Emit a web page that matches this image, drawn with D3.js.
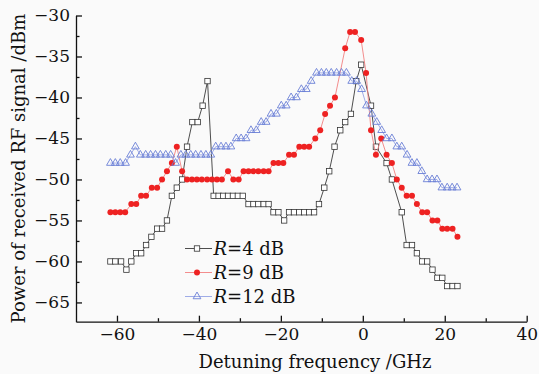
<!DOCTYPE html>
<html>
<head>
<meta charset="utf-8">
<script src="https://cdn.jsdelivr.net/npm/d3@7"></script>
<style>
    body { margin: 0; background: #fafafa; }
    svg { display: block; font-family: "DejaVu Serif", serif; }
    .axis path, .axis line { stroke: #111; stroke-width: 1.3; }
    .axis text { font-family: "DejaVu Serif", serif; font-size: 17px; fill: #111; }
</style>
</head>
<body>
<div id="chart"></div>
<script>

// Detuning frequency (GHz) and received power (dBm)
const freqR4 = [-61.6, -60.4, -59.0, -57.7, -56.5, -55.3, -54.1, -52.9, -51.6, -50.2,
    -49.0, -47.8, -46.6, -45.4, -44.1, -42.9, -41.6, -40.3, -39.1, -37.9,
    -36.4, -35.2, -34.1, -32.9, -31.7, -30.5, -29.3, -27.9, -26.7, -25.5,
    -24.2, -23.0, -21.8, -20.6, -19.2, -18.0, -16.8, -15.5, -14.3, -13.1,
    -11.9, -10.7, -9.4, -8.2, -6.9, -5.5, -4.3, -2.9, -1.6, -0.4,
    2.0, 3.2, 5.8, 7.1, 9.5, 10.7, 12.0, 13.2, 14.5, 15.7,
    17.0, 18.2, 19.4, 20.6, 21.9, 23.1];
const powerR4 = [-60, -60, -60, -61, -60, -59, -59, -58, -57, -56,
    -56, -55, -52, -51, -50, -46, -43, -43, -41, -38,
    -52, -52, -52, -52, -52, -52, -52, -53, -53, -53,
    -53, -53, -54, -54, -55, -54, -54, -54, -54, -54,
    -54, -53, -51, -49, -46, -44, -43, -42, -38, -36,
    -41, -46, -48, -50, -54, -58, -58, -59, -60, -60,
    -61, -62, -62, -63, -63, -63];

const freqR9 = [-61.6, -60.4, -59.2, -58.0, -56.5, -55.3, -54.1, -52.9, -51.5, -50.2,
    -49.0, -47.8, -46.6, -45.4, -44.1, -42.9, -41.7, -40.5, -39.3, -38.0,
    -36.8, -35.6, -34.4, -32.9, -31.6, -30.3, -29.1, -27.9, -26.7, -25.5,
    -24.2, -23.0, -21.8, -20.6, -19.4, -18.0, -16.8, -15.5, -14.3, -13.1,
    -11.6, -10.4, -9.2, -8.0, -6.8, -4.3, -3.1, -1.9, -0.4, 0.8,
    2.0, 3.2, 4.5, 5.8, 7.1, 8.3, 9.5, 10.7, 12.0, 13.2,
    14.5, 15.7, 17.0, 18.2, 19.4, 20.6, 21.9, 23.1];
const powerR9 = [-54, -54, -54, -54, -53, -53, -52, -52, -51, -51,
    -50, -49, -48, -46, -49, -50, -50, -50, -50, -50,
    -50, -50, -50, -49, -50, -50, -49, -49, -49, -49,
    -49, -49, -48, -48, -48, -47, -47, -46, -46, -46,
    -45, -44, -42, -41, -40, -34, -32, -32, -33, -37,
    -44, -47, -45, -47, -48, -50, -51, -52, -52, -53,
    -54, -54, -55, -55, -56, -56, -56, -57];

const freqR12 = [-61.6, -60.4, -59.2, -57.9, -56.7, -55.5, -54.3, -53.0, -51.8, -50.6,
    -49.4, -48.1, -46.9, -45.7, -44.4, -43.2, -42.0, -40.8, -39.5, -38.3,
    -37.1, -35.9, -34.6, -33.4, -32.2, -30.9, -29.7, -28.5, -27.3, -26.0,
    -24.8, -23.6, -22.4, -21.1, -19.9, -18.7, -17.5, -16.2, -15.0, -13.8,
    -12.6, -11.3, -10.1, -8.9, -7.7, -6.4, -5.2, -4.0, -2.7, -1.5,
    -0.3, 0.9, 2.2, 3.4, 4.6, 5.8, 7.1, 8.3, 9.5, 10.8,
    12.0, 13.2, 14.4, 15.7, 16.9, 18.1, 19.3, 20.6, 21.8, 23.0];
const powerR12 = [-48, -48, -48, -48, -47, -46, -47, -47, -47, -47,
    -47, -47, -47, -48, -47, -47, -47, -47, -47, -47,
    -47, -46, -46, -46, -46, -45, -45, -45, -44, -44,
    -43, -43, -42, -42, -41, -41, -40, -40, -39, -39,
    -38, -37, -37, -37, -37, -37, -37, -37, -38, -38,
    -39, -41, -42, -43, -44, -45, -45, -46, -46, -47,
    -48, -48, -49, -50, -50, -50, -51, -51, -51, -51];

const legendLabels = ["=4 dB", "=9 dB", "=12 dB"];
const xTicks = [-60, -40, -20, 0, 20, 40];
const xMinor = [-50, -30, -10, 10, 30];
const yTicks = [-30, -35, -40, -45, -50, -55, -60, -65];
const yMinor = [-32.5, -37.5, -42.5, -47.5, -52.5, -57.5, -62.5];

let margin = { top: 15.5, right: 12.3, bottom: 52.3, left: 76 };
let width = 539 - margin.left - margin.right,
    height = 374 - margin.top - margin.bottom;

let svg = d3.select("#chart").append("svg")
    .attr("width", 539)
    .attr("height", 374);

svg.append("rect")
    .attr("width", 539).attr("height", 374)
    .attr("fill", "#fafafa");

let g = svg.append("g")
    .attr("transform", "translate(" + margin.left + "," + margin.top + ")");

// Scales
let x = d3.scaleLinear().domain([-70, 40]).range([0, width]);
let y = d3.scaleLinear().domain([-67.35, -30]).range([height, 0]);

// Axes, ticks point inward
g.append("g")
    .attr("class", "axis")
    .attr("transform", "translate(0," + height + ")")
    .call(d3.axisBottom(x).tickValues(xMinor).tickSize(-3.5).tickFormat(""))
    .call(ax => ax.select(".domain").remove());

g.append("g")
    .attr("class", "axis")
    .attr("transform", "translate(0," + height + ")")
    .call(d3.axisBottom(x).tickValues(xTicks).tickSizeInner(-6).tickSizeOuter(0).tickPadding(6));

g.append("g")
    .attr("class", "axis")
    .call(d3.axisLeft(y).tickValues(yMinor).tickSize(-3.5).tickFormat(""))
    .call(ax => ax.select(".domain").remove());

g.append("g")
    .attr("class", "axis")
    .call(d3.axisLeft(y).tickValues(yTicks).tickSizeInner(-6).tickSizeOuter(0).tickPadding(6));

// Axis titles
svg.append("text")
    .attr("x", 315)
    .attr("y", 368)
    .attr("text-anchor", "middle")
    .attr("font-size", "18px")
    .attr("fill", "#111")
    .text("Detuning frequency /GHz");

svg.append("text")
    .attr("transform", "translate(25," + (margin.top + height / 2) + ") rotate(-90)")
    .attr("text-anchor", "middle")
    .attr("font-size", "18px")
    .attr("fill", "#111")
    .text("Power of received RF signal /dBm");

// Series
let series = [
    { freq: freqR4, power: powerR4, line: "#3a3a3a", marker: "square" },
    { freq: freqR9, power: powerR9, line: "#f28080", marker: "circle" },
    { freq: freqR12, power: powerR12, line: "#94a3e4", marker: "triangle" }
];

let line = d3.line()
    .x(d => x(d[0]))
    .y(d => y(d[1]));

function drawMarker(sel, type) {
    if (type === "square") {
        sel.append("rect")
            .attr("x", -2.7).attr("y", -2.7)
            .attr("width", 5.4).attr("height", 5.4)
            .attr("fill", "#fff")
            .attr("stroke", "#333")
            .attr("stroke-width", 0.8);
    } else if (type === "circle") {
        sel.append("circle")
            .attr("r", 3)
            .attr("fill", "#ee2222");
    } else {
        sel.append("path")
            .attr("d", d3.symbol().type(d3.symbolTriangle).size(26)())
            .attr("fill", "none")
            .attr("stroke", "#6a7fd6")
            .attr("stroke-width", 0.9);
    }
}

series.forEach(s => {
    let pts = s.freq.map((f, i) => [f, s.power[i]]);

    g.append("path")
        .datum(pts)
        .attr("fill", "none")
        .attr("stroke", s.line)
        .attr("stroke-width", 0.9)
        .attr("d", line);

    g.selectAll(".m-" + s.marker)
        .data(pts)
        .enter().append("g")
        .attr("class", "m-" + s.marker)
        .attr("transform", d => "translate(" + x(d[0]) + "," + y(d[1]) + ")")
        .each(function () { drawMarker(d3.select(this), s.marker); });
});

// Legend
let legend = svg.append("g")
    .attr("transform", "translate(185,248.5)");

series.forEach((s, i) => {
    let row = legend.append("g")
        .attr("transform", "translate(0," + (i * 24) + ")");

    row.append("line")
        .attr("x1", 0).attr("x2", 27)
        .attr("stroke", s.line)
        .attr("stroke-width", 0.9);

    drawMarker(row.append("g").attr("transform", "translate(12,0)"), s.marker);

    let t = row.append("text")
        .attr("x", 28.5)
        .attr("y", 6.5)
        .attr("font-size", "18px")
        .attr("fill", "#111");
    t.append("tspan").attr("font-style", "italic").text("R");
    t.append("tspan").text(legendLabels[i]);
});

</script>
</body>
</html>
